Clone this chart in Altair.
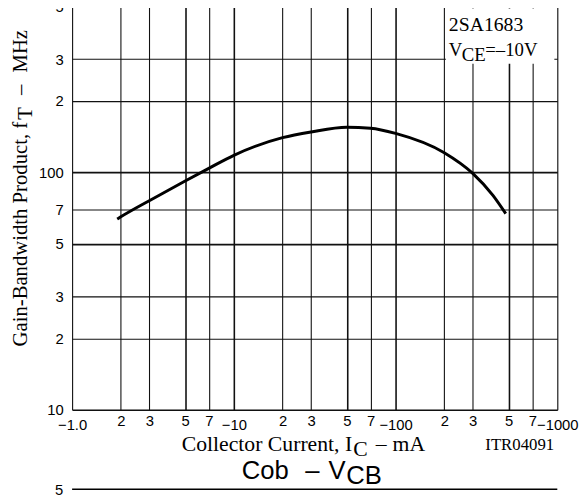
import altair as alt
import pandas as pd

# ---- data ----
ic_ma = [1.9, 2, 3, 5, 7, 10, 20, 30, 50, 70, 100, 200, 300, 400, 480]
ft_mhz = [63.6, 65, 76, 92, 104, 118, 140, 148, 155, 153.5, 146, 121, 99, 80, 67]

x_ticks = [1, 2, 3, 5, 7, 10, 20, 30, 50, 70, 100, 200, 300, 500, 700, 1000]
x_labels = ["\u22121.0", "2", "3", "5", "7", "\u221210", "2", "3", "5", "7",
            "\u2212100", "2", "3", "5", "7", "\u22121000"]
y_ticks = [10, 20, 30, 50, 70, 100, 200, 300, 500]
y_labels = ["10", "2", "3", "5", "7", "100", "2", "3", "5"]

decades_x = [1, 10, 100, 1000]
heavy = [5, 10, 50, 100, 500]

W, H = 492, 409
SERIF = "Liberation Serif"
SANS = "Liberation Sans"


def label_expr(ticks, labels):
    expr = "''"
    for t, l in reversed(list(zip(ticks, labels))):
        expr = f"datum.value == {t} ? '{l}' : ({expr})"
    return expr


heavy_test = "indexof([" + ",".join(str(v) for v in heavy) + "], datum.value) >= 0"
dec_test = "indexof([" + ",".join(str(v) for v in decades_x) + "], datum.value) >= 0"

df = pd.DataFrame({"ic": ic_ma, "ft": ft_mhz})

x_axis = alt.Axis(
    values=x_ticks,
    labelExpr=label_expr(x_ticks, x_labels),
    title=None,
    domain=False,
    ticks=False,
    grid=True,
    gridColor="#111111",
    gridOpacity=1,
    gridWidth={"condition": {"test": heavy_test, "value": 1.6}, "value": 1.1},
    labelFont=SANS,
    labelFontSize=15,
    labelColor="black",
    labelPadding={"condition": {"test": dec_test, "value": 8}, "value": 4},
    labelFlush=False,
    labelOverlap=False,
)
y_axis = alt.Axis(
    values=y_ticks,
    labelExpr=label_expr(y_ticks, y_labels),
    title=None,
    domain=False,
    ticks=False,
    grid=True,
    gridColor="#111111",
    gridOpacity=1,
    gridWidth={"condition": {"test": heavy_test, "value": 1.6}, "value": 1.1},
    labelFont=SANS,
    labelFontSize=15,
    labelColor="black",
    labelPadding=9,
    labelFlush=False,
    labelOverlap=False,
)

line = alt.Chart(df).mark_line(
    color="black", strokeWidth=3, interpolate="monotone", clip=True
).encode(
    x=alt.X("ic:Q", scale=alt.Scale(type="log", domain=[1, 1000], nice=False), axis=x_axis),
    y=alt.Y("ft:Q", scale=alt.Scale(type="log", domain=[10, 500], nice=False), axis=y_axis),
)

one = pd.DataFrame({"a": [0]})


def txt(s, x, y, size, font, align="left", angle=0, baseline="alphabetic"):
    return alt.Chart(one).mark_text(
        text=s, font=font, fontSize=size, align=align, angle=angle,
        baseline=baseline, color="black"
    ).encode(x=alt.value(x), y=alt.value(y))


box = alt.Chart(one).mark_rect(color="white").encode(
    x=alt.value(379), x2=alt.value(489), y=alt.value(2), y2=alt.value(58)
)

next_border = alt.Chart(one).mark_rule(color="black", strokeWidth=1.6).encode(
    x=alt.value(0), x2=alt.value(W), y=alt.value(489.5)
)

texts = [
    # annotation box
    txt("2SA1683", 382, 25, 20, SERIF),
    txt("V", 382, 50, 19, SERIF),
    txt("CE", 395, 55, 19, SERIF),
    txt("=\u201310V", 419, 50, 19, SERIF),
    # x title
    txt("Collector Current, I", 284, 451, 22, SERIF, align="right"),
    txt("C", 285, 456, 22, SERIF),
    txt("\u2013", 313.5, 451, 22, SERIF, align="center"),
    txt("mA", 325, 451, 22, SERIF),
    txt("ITR04091", 419, 450, 17, SERIF),
    # y title (rotated)
    txt("Gain-Bandwidth Product, f", -46, 117, 21, SERIF, align="right", angle=270),
    txt("T", -41, 115, 21, SERIF, angle=270),
    txt("\u2013", -46, 84.5, 21, SERIF, align="center", angle=270),
    txt("MHz", -46, 67, 21, SERIF, angle=270),
    # next chart heading
    txt("Cob", 172, 479, 26, SANS),
    txt("\u2013", 243.7, 479, 26, SANS, align="center"),
    txt("V", 260, 479, 26, SANS),
    txt("CB", 278, 484, 26, SANS),
    txt("5", -9, 490, 15, SANS, align="right", baseline="middle"),
]

chart = alt.layer(line, box, next_border, *texts).properties(
    width=W,
    height=H,
    autosize=alt.AutoSizeParams(type="none"),
    padding={"left": 65, "top": -5, "right": 22, "bottom": 83},
).configure_view(
    stroke="black", strokeWidth=2
).configure(background="white")

chart.save("out.html", embed_options={"renderer": "svg", "actions": False})
